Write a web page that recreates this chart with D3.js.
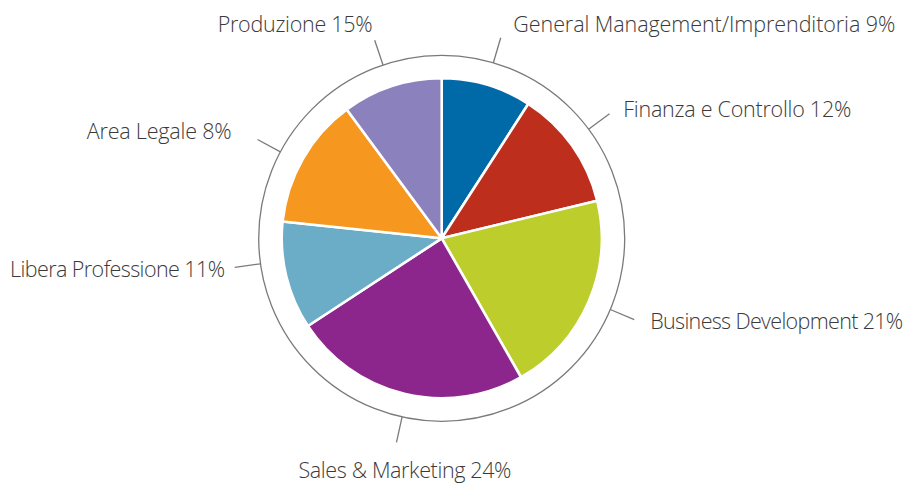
<!DOCTYPE html>
<html>
<head>
<meta charset="utf-8">
<script src="https://cdn.jsdelivr.net/npm/d3@7"></script>
<style>
  html, body { margin: 0; padding: 0; background: #fff; }
  svg { display: block; }
  .lbl { font-family: "Open Sans", sans-serif; font-weight: 300; font-size: 21.5px; fill: #3a3a3a; }
</style>
</head>
<body>
<svg id="chart" width="915" height="484"></svg>
<script>
// Data
const categories = ["General Management/Imprenditoria", "Finanza e Controllo", "Business Development",
                    "Sales & Marketing", "Libera Professione", "Area Legale", "Produzione"];
const labelPercents = [9, 12, 21, 24, 11, 8, 15];              // percentages printed in the labels
const sliceValues = [9.1, 12.1, 20.5, 24.0, 10.9, 13.2, 10.1]; // slice sizes as drawn in the picture
const colors = ["#0069a7", "#bd2f1c", "#bccd2c", "#8d268c", "#6badc7", "#f6971f", "#8b82bd"];

// Label layout: leader angle (degrees, clockwise from top), text offset from leader end, anchor, text width
const labelLayout = [
  { angle: 16.4,  dx: 12.6,  dy: -5.8, anchor: "start",  w: 382 },
  { angle: 53.4,  dx: 13.8,  dy: 3.6,  anchor: "start",  w: 228 },
  { angle: 112.9, dx: 16,    dy: 9.7,  anchor: "start",  w: 253 },
  { angle: 192.5, dx: 8.5,   dy: 36,   anchor: "middle", w: 213 },
  { angle: 262,   dx: -9.7,  dy: 9.3,  anchor: "end",    w: 215 },
  { angle: 298.2, dx: -25.8, dy: -0.6, anchor: "end",    w: 145 },
  { angle: 341.3, dx: -2,    dy: -8.6, anchor: "end",    w: 155 }
];

const svg = d3.select("#chart");
const cx = 441.7, cy = 238.3;
const rPie = 160, rRing = 183, rTick = 209;

const g = svg.append("g").attr("transform", `translate(${cx},${cy})`);

const data = categories.map((c, i) => ({ name: c, pct: labelPercents[i], value: sliceValues[i], color: colors[i], layout: labelLayout[i] }));

const pie = d3.pie().sort(null).value(d => d.value);
const arcs = pie(data);
const arc = d3.arc().innerRadius(0).outerRadius(rPie);

g.selectAll("path.slice").data(arcs).join("path")
  .attr("class", "slice")
  .attr("d", arc)
  .attr("fill", d => d.data.color)
  .attr("stroke", "#fff")
  .attr("stroke-width", 2.6)
  .attr("stroke-linejoin", "round");

g.append("circle").attr("r", rRing).attr("fill", "none").attr("stroke", "#7a7a7a").attr("stroke-width", 1.3);

const rad = d => d.data.layout.angle * Math.PI / 180;
const pt = (a, r) => [Math.sin(a) * r, -Math.cos(a) * r];

g.selectAll("line.tick").data(arcs).join("line")
  .attr("class", "tick")
  .attr("x1", d => pt(rad(d), rRing)[0]).attr("y1", d => pt(rad(d), rRing)[1])
  .attr("x2", d => pt(rad(d), rTick)[0]).attr("y2", d => pt(rad(d), rTick)[1])
  .attr("stroke", "#7a7a7a").attr("stroke-width", 1.3);

g.selectAll("text.lbl").data(arcs).join("text")
  .attr("class", "lbl")
  .attr("x", d => pt(rad(d), rTick)[0] + d.data.layout.dx)
  .attr("y", d => pt(rad(d), rTick)[1] + d.data.layout.dy)
  .attr("text-anchor", d => d.data.layout.anchor)
  .attr("textLength", d => d.data.layout.w)
  .attr("lengthAdjust", "spacing")
  .text(d => `${d.data.name} ${d.data.pct}%`);
</script>
</body>
</html>
